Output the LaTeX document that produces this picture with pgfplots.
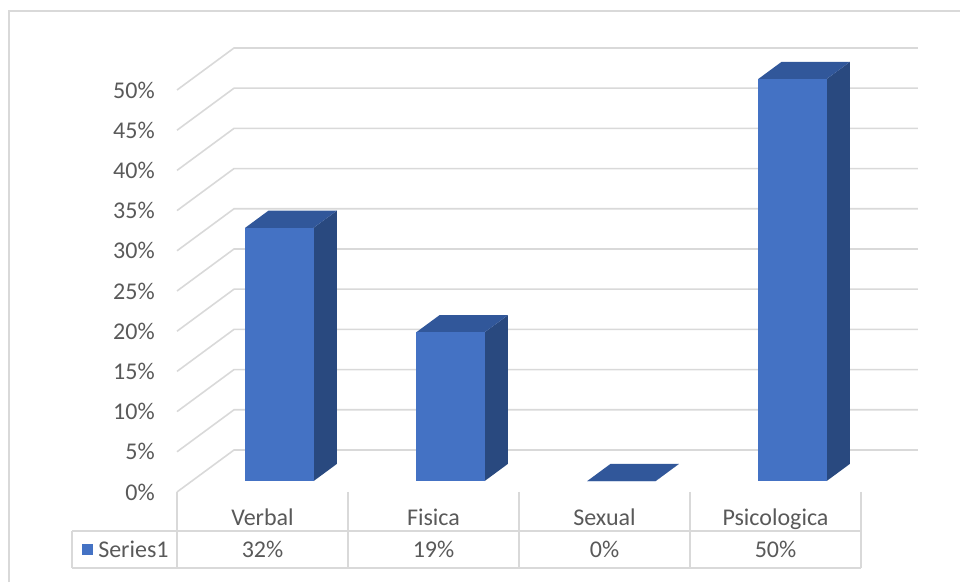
\documentclass[border=0pt]{standalone}
\usepackage{pgfplots}
\pgfplotsset{compat=1.18}
\usepackage{pgfplotstable}
\usepackage{fontspec}
\setmainfont{Carlito}
\definecolor{frontcol}{HTML}{4472C4}
\definecolor{topcol}{HTML}{31579A}
\definecolor{sidecol}{HTML}{29497F}
\definecolor{gridcol}{HTML}{D9D9D9}
\definecolor{txt}{HTML}{595959}

\pgfplotstableread{
x value
0 31.5
1 18.5
2 0
3 50
}\bardata

\begin{document}
\begin{tikzpicture}[x=0.75pt,y=0.75pt]
\useasboundingbox (0,0) rectangle (960,582);
\draw[gridcol, line width=1.3pt] (9,0) -- (9,571) -- (960,571);
\begin{axis}[
  at={(132.75pt,67.5pt)}, anchor=south west,
  scale only axis, width=513pt, height=301.5pt,
  xmin=-0.5, xmax=3.5, ymin=0, ymax=50,
  clip=false,
  axis line style={draw=none},
  major tick length=0pt,
  xtick={0,1,2,3},
  xticklabels={Verbal,Fisica,Sexual,Psicologica},
  ytick={0,5,10,15,20,25,30,35,40,45,50},
  yticklabels={0\%,5\%,10\%,15\%,20\%,25\%,30\%,35\%,40\%,45\%,50\%},
  tick label style={font=\fontsize{18}{21}\selectfont, text=txt},
  xticklabel style={anchor=base, yshift=-24.75pt, inner sep=0pt},
  yticklabel style={anchor=east, inner sep=0pt, xshift=-16.5pt},
  no markers,
]
% back wall and side wall gridlines
\pgfplotsinvokeforeach{0,...,10}{
  \pgfmathsetmacro\ga{5*#1}
  \pgfmathsetmacro\gb{5*#1+5.224}
  \edef\temp{\noexpand\addplot[draw=gridcol, line width=1.2pt] coordinates {(-0.5,\ga) (-0.1667,\gb) (3.8333,\gb)};}
  \temp
}
% 3D bars
\pgfplotsinvokeforeach{0,1,2,3}{
  \pgfplotstablegetelem{#1}{value}\of\bardata
  \pgfmathsetmacro\vA{\pgfplotsretval+1.358}
  \pgfmathsetmacro\vB{\pgfplotsretval+3.5}
  \pgfmathsetmacro\xL{#1-0.2+0.0987}
  \pgfmathsetmacro\xR{#1+0.2+0.0987}
  \pgfmathsetmacro\xLb{#1-0.2+0.2353}
  \pgfmathsetmacro\xRb{#1+0.2+0.2353}
  \edef\temp{%
    \noexpand\addplot[draw=none, fill=sidecol] coordinates {(\xR,1.358) (\xRb,3.5) (\xRb,\vB) (\xR,\vA)} --cycle;
    \noexpand\addplot[draw=none, fill=topcol] coordinates {(\xL,\vA) (\xR,\vA) (\xRb,\vB) (\xLb,\vB)} --cycle;
    \noexpand\addplot[draw=none, fill=frontcol] coordinates {(\xL,1.358) (\xR,1.358) (\xR,\vA) (\xL,\vA)} --cycle;
  }%
  \temp
}
\end{axis}
% data table
\draw[gridcol, line width=1.3pt]
  (72,51) -- (861,51) (72,14) -- (861,14) (72,51) -- (72,14)
  (177,90) -- (177,14) (348,90) -- (348,14) (519,90) -- (519,14)
  (690,90) -- (690,14) (861,90) -- (861,14);
\fill[frontcol] (82,27) rectangle (93,38);
\begin{scope}[every node/.style={font=\fontsize{18}{21}\selectfont, text=txt, inner sep=0pt}]
\node[anchor=base west] at (98,25) {Series1};
\node[anchor=base] at (262.5,25) {32\%};
\node[anchor=base] at (433.5,25) {19\%};
\node[anchor=base] at (604.5,25) {0\%};
\node[anchor=base] at (775.5,25) {50\%};
\end{scope}
\end{tikzpicture}
\end{document}
